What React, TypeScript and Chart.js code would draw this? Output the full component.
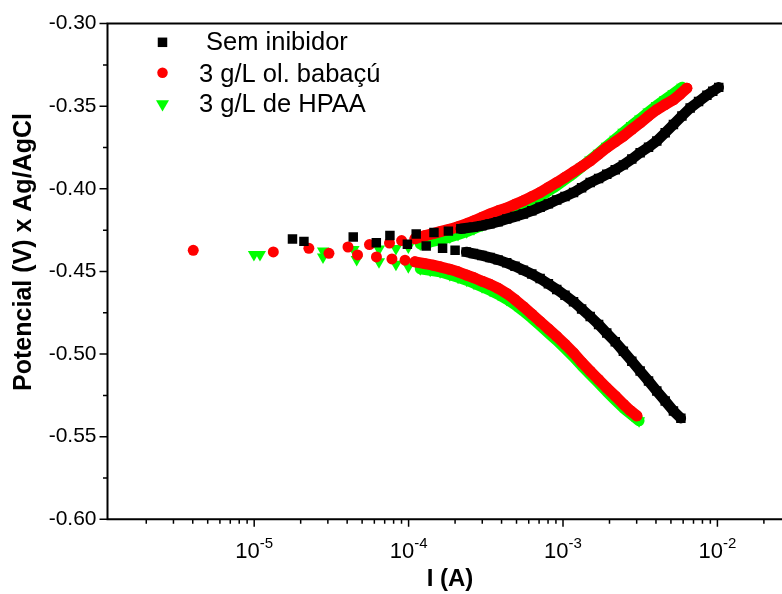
import React, { useEffect, useRef } from "react";
import { Chart, registerables } from "chart.js";

Chart.register(...registerables);

// ---------- DATA (I in A, E in V vs Ag/AgCl) ----------
const seriesLabels = ["Sem inibidor", "3 g/L ol. babaçú", "3 g/L de HPAA"];

// Sem inibidor
const semScatterI = [1.77e-5, 2.10e-5, 4.38e-5, 6.18e-5, 7.57e-5, 9.82e-5, 1.12e-4, 1.30e-4, 1.46e-4, 1.66e-4, 1.81e-4, 2.00e-4];
const semScatterE = [-0.4304, -0.4318, -0.4292, -0.4326, -0.4282, -0.4336, -0.4274, -0.4346, -0.4264, -0.4360, -0.4256, -0.4372];
const semCathI = [2.36e-4, 2.63e-4, 2.98e-4, 3.37e-4, 3.80e-4, 4.32e-4, 4.89e-4, 5.54e-4, 6.28e-4, 7.11e-4, 8.04e-4, 9.11e-4, 1.03e-3, 1.17e-3, 1.32e-3, 1.50e-3, 1.70e-3, 1.92e-3, 2.18e-3, 2.46e-3, 2.79e-3, 3.16e-3, 3.58e-3, 4.05e-3, 4.59e-3, 5.19e-3, 5.80e-3];
const semCathE = [-0.4382, -0.4392, -0.4403, -0.4416, -0.4430, -0.4448, -0.4469, -0.4492, -0.4516, -0.4543, -0.4575, -0.4609, -0.4644, -0.4683, -0.4727, -0.4773, -0.4821, -0.4873, -0.4926, -0.4983, -0.5043, -0.5103, -0.5163, -0.5224, -0.5284, -0.5344, -0.5388];
const semAnodI = [2.18e-4, 2.63e-4, 2.98e-4, 3.37e-4, 3.80e-4, 4.32e-4, 4.89e-4, 5.54e-4, 6.28e-4, 7.11e-4, 8.04e-4, 9.11e-4, 1.03e-3, 1.17e-3, 1.32e-3, 1.50e-3, 1.70e-3, 1.92e-3, 2.18e-3, 2.46e-3, 2.79e-3, 3.16e-3, 3.58e-3, 4.05e-3, 4.59e-3, 5.19e-3, 5.89e-3, 6.66e-3, 7.55e-3, 8.55e-3, 9.33e-3, 1.02e-2];
const semAnodE = [-0.4242, -0.4232, -0.4223, -0.4212, -0.4199, -0.4182, -0.4168, -0.4152, -0.4133, -0.4112, -0.4091, -0.4068, -0.4046, -0.4022, -0.3993, -0.3962, -0.3938, -0.3912, -0.3885, -0.3855, -0.3820, -0.3781, -0.3748, -0.3711, -0.3661, -0.3611, -0.3559, -0.3511, -0.3472, -0.3434, -0.3409, -0.3386];

// 3 g/L ol. babaçú
const babScatterI = [4.03e-6, 1.33e-5, 2.26e-5, 3.05e-5, 4.05e-5, 4.67e-5, 5.58e-5, 6.19e-5, 7.52e-5, 7.80e-5, 9.01e-5, 9.48e-5];
const babScatterE = [-0.4372, -0.4382, -0.4360, -0.4390, -0.4352, -0.4400, -0.4337, -0.4412, -0.4328, -0.4424, -0.4313, -0.4432];
const babCathI = [1.10e-4, 1.28e-4, 1.44e-4, 1.60e-4, 1.85e-4, 2.09e-4, 2.38e-4, 2.65e-4, 2.99e-4, 3.37e-4, 3.80e-4, 4.32e-4, 4.89e-4, 5.54e-4, 6.28e-4, 7.11e-4, 8.04e-4, 9.11e-4, 1.03e-3, 1.17e-3, 1.32e-3, 1.50e-3, 1.70e-3, 1.92e-3, 2.18e-3, 2.46e-3, 2.72e-3, 3.01e-3];
const babCathE = [-0.4442, -0.4453, -0.4462, -0.4472, -0.4487, -0.4502, -0.4522, -0.4538, -0.4559, -0.4578, -0.4602, -0.4633, -0.4671, -0.4713, -0.4758, -0.4803, -0.4848, -0.4893, -0.4941, -0.4993, -0.5049, -0.5103, -0.5154, -0.5204, -0.5254, -0.5303, -0.5341, -0.5374];
const babAnodI = [1.10e-4, 1.28e-4, 1.44e-4, 1.60e-4, 1.85e-4, 2.09e-4, 2.38e-4, 2.65e-4, 2.99e-4, 3.37e-4, 3.80e-4, 4.32e-4, 4.89e-4, 5.54e-4, 6.28e-4, 7.11e-4, 8.04e-4, 9.11e-4, 1.03e-3, 1.17e-3, 1.32e-3, 1.50e-3, 1.70e-3, 1.92e-3, 2.18e-3, 2.46e-3, 2.79e-3, 3.16e-3, 3.58e-3, 4.05e-3, 4.59e-3, 5.19e-3, 5.74e-3, 6.34e-3];
const babAnodE = [-0.4302, -0.4283, -0.4271, -0.4259, -0.4244, -0.4229, -0.4211, -0.4193, -0.4172, -0.4152, -0.4133, -0.4116, -0.4094, -0.4072, -0.4047, -0.4022, -0.3992, -0.3962, -0.3930, -0.3897, -0.3865, -0.3831, -0.3790, -0.3751, -0.3715, -0.3681, -0.3640, -0.3601, -0.3559, -0.3521, -0.3490, -0.3461, -0.3427, -0.3391];

// 3 g/L de HPAA
const hpaScatterI = [9.96e-6, 1.09e-5, 2.79e-5, 2.79e-5, 4.40e-5, 4.61e-5, 6.43e-5, 6.43e-5, 8.28e-5, 8.28e-5, 9.96e-5, 9.96e-5];
const hpaScatterE = [-0.4397, -0.4397, -0.4376, -0.4412, -0.4367, -0.4427, -0.4364, -0.4442, -0.4361, -0.4457, -0.4352, -0.4472];
const hpaCathI = [1.19e-4, 1.38e-4, 1.60e-4, 1.85e-4, 2.09e-4, 2.38e-4, 2.65e-4, 2.99e-4, 3.37e-4, 3.80e-4, 4.32e-4, 4.89e-4, 5.54e-4, 6.28e-4, 7.11e-4, 8.04e-4, 9.11e-4, 1.03e-3, 1.17e-3, 1.32e-3, 1.50e-3, 1.70e-3, 1.92e-3, 2.18e-3, 2.46e-3, 2.79e-3, 3.11e-3];
const hpaCathE = [-0.4484, -0.4493, -0.4502, -0.4520, -0.4535, -0.4553, -0.4571, -0.4593, -0.4614, -0.4638, -0.4668, -0.4701, -0.4740, -0.4782, -0.4827, -0.4872, -0.4917, -0.4965, -0.5016, -0.5070, -0.5124, -0.5175, -0.5227, -0.5278, -0.5326, -0.5368, -0.5404];
const hpaAnodI = [1.19e-4, 1.38e-4, 1.60e-4, 1.85e-4, 2.09e-4, 2.38e-4, 2.65e-4, 2.99e-4, 3.37e-4, 3.80e-4, 4.32e-4, 4.89e-4, 5.54e-4, 6.28e-4, 7.11e-4, 8.04e-4, 9.11e-4, 1.03e-3, 1.17e-3, 1.32e-3, 1.50e-3, 1.70e-3, 1.92e-3, 2.18e-3, 2.46e-3, 2.79e-3, 3.16e-3, 3.58e-3, 4.05e-3, 4.59e-3, 5.19e-3, 5.92e-3];
const hpaAnodE = [-0.4334, -0.4322, -0.4307, -0.4292, -0.4277, -0.4259, -0.4241, -0.4220, -0.4199, -0.4178, -0.4154, -0.4130, -0.4103, -0.4076, -0.4046, -0.4013, -0.3980, -0.3944, -0.3907, -0.3868, -0.3826, -0.3784, -0.3742, -0.3700, -0.3658, -0.3616, -0.3577, -0.3535, -0.3496, -0.3460, -0.3424, -0.3385];

// Axes
const xMin = 1.122e-6;
const xMax = 2.62e-2;
const xMajorTicks = [1e-5, 1e-4, 1e-3, 1e-2];
const xMajorExponents = ["-5", "-4", "-3", "-2"];
const yMin = -0.6;
const yMax = -0.3;
const yStep = 0.05;
const xTitle = "I (A)";
const yTitle = "Potencial (V) x Ag/AgCl";

// ---------- STYLE ----------
const FONT = "'Liberation Sans', Arial, Helvetica, sans-serif";
const colors = ["#000000", "#ff0000", "#00ff00"];

const toPts = (I: number[], E: number[]) => I.map((v, i) => ({ x: v, y: E[i] }));

function drawMarker(ctx: CanvasRenderingContext2D, kind: number, x: number, y: number, s: number) {
  ctx.beginPath();
  if (kind === 0) {
    ctx.rect(x - s / 2, y - s / 2, s, s);
  } else if (kind === 1) {
    ctx.arc(x, y, s / 2, 0, Math.PI * 2);
  } else {
    const r = s / Math.sqrt(3);
    ctx.moveTo(x, y + r);
    ctx.lineTo(x - s / 2, y - r / 2);
    ctx.lineTo(x + s / 2, y - r / 2);
    ctx.closePath();
  }
  ctx.fill();
}

const decorPlugin = {
  id: "decor",
  afterDraw(chart: any) {
    const { ctx, chartArea: ca, scales } = chart;
    const xs = scales.x;
    const ys = scales.y;
    ctx.save();
    ctx.strokeStyle = "#000";
    ctx.fillStyle = "#000";

    // ticks
    ctx.lineWidth = 1.5;
    ctx.beginPath();
    for (let d = -7; d <= -1; d++) {
      for (let k = 1; k <= 9; k++) {
        const v = k * Math.pow(10, d);
        if (v < xMin || v > xMax) continue;
        const px = xs.getPixelForValue(v);
        const len = k === 1 ? 7.5 : 4.5;
        ctx.moveTo(px, ca.bottom);
        ctx.lineTo(px, ca.bottom + len);
      }
    }
    const nSteps = Math.round((yMax - yMin) / yStep);
    for (let i = 0; i <= nSteps; i++) {
      const v = yMin + i * yStep;
      const py = ys.getPixelForValue(v);
      ctx.moveTo(ca.left, py);
      ctx.lineTo(ca.left - 8, py);
      if (i < nSteps) {
        const pm = ys.getPixelForValue(v + yStep / 2);
        ctx.moveTo(ca.left, pm);
        ctx.lineTo(ca.left - 4.5, pm);
      }
    }
    ctx.stroke();

    // axis lines
    ctx.lineWidth = 2;
    ctx.beginPath();
    ctx.moveTo(ca.left, ca.top);
    ctx.lineTo(ca.right, ca.top);
    ctx.moveTo(ca.left, ca.top - 1);
    ctx.lineTo(ca.left, ca.bottom + 1);
    ctx.moveTo(ca.left - 1, ca.bottom);
    ctx.lineTo(ca.right, ca.bottom);
    ctx.stroke();

    // x tick labels 10^n
    ctx.textBaseline = "alphabetic";
    ctx.textAlign = "left";
    xMajorTicks.forEach((v, i) => {
      const px = xs.getPixelForValue(v);
      ctx.font = `22px ${FONT}`;
      const wBase = ctx.measureText("10").width;
      ctx.font = `15px ${FONT}`;
      const wExp = ctx.measureText(xMajorExponents[i]).width;
      const left = px - (wBase + wExp) / 2;
      ctx.font = `22px ${FONT}`;
      ctx.fillText("10", left, ca.bottom + 39);
      ctx.font = `15px ${FONT}`;
      ctx.fillText(xMajorExponents[i], left + wBase, ca.bottom + 29);
    });

    // axis titles
    ctx.font = `bold 24px ${FONT}`;
    ctx.textAlign = "center";
    ctx.fillText(xTitle, 450, 586);
    ctx.save();
    ctx.font = `bold 25px ${FONT}`;
    ctx.translate(31, 252);
    ctx.rotate(-Math.PI / 2);
    ctx.fillText(yTitle, 0, 0);
    ctx.restore();

    // legend
    const lx = 162.5;
    const ly = [42.3, 72.7, 104];
    const sizes = [9.5, 10.5, 13];
    const textY = [50, 81.5, 112];
    const texts = [" " + seriesLabels[0], seriesLabels[1], seriesLabels[2]];
    ctx.font = `25.5px ${FONT}`;
    ctx.textAlign = "left";
    for (let i = 0; i < 3; i++) {
      ctx.fillStyle = colors[i];
      drawMarker(ctx, i, lx, ly[i], sizes[i]);
      ctx.fillStyle = "#000";
      ctx.fillText(texts[i], 199, textY[i]);
    }
    ctx.restore();
  },
};

export default function App() {
  const ref = useRef<HTMLCanvasElement | null>(null);
  useEffect(() => {
    if (!ref.current) return;
    const markerBase = (i: number) => {
      const common: any = {
        backgroundColor: colors[i],
        borderColor: colors[i],
        pointBackgroundColor: colors[i],
        pointBorderColor: colors[i],
        pointBorderWidth: 0,
        showLine: false,
      };
      if (i === 0) return { ...common, pointStyle: "rect", pointRadius: 6.7 };
      if (i === 1) return { ...common, pointStyle: "circle", pointRadius: 5.5 };
      return { ...common, pointStyle: "triangle", pointRotation: 180, pointRadius: 7 };
    };
    const band = (i: number, data: any[], order: number, w: number) => ({
      data,
      showLine: true,
      pointRadius: 0,
      borderColor: colors[i],
      borderWidth: w,
      borderJoinStyle: "round",
      borderCapStyle: "round",
      tension: 0,
      fill: false,
      order,
    });
    const semAll = [...toPts(semScatterI, semScatterE), ...toPts(semCathI, semCathE), ...toPts(semAnodI, semAnodE)];
    const babAll = [...toPts(babScatterI, babScatterE), ...toPts(babCathI, babCathE), ...toPts(babAnodI, babAnodE)];
    const hpaAll = [...toPts(hpaScatterI, hpaScatterE), ...toPts(hpaCathI, hpaCathE), ...toPts(hpaAnodI, hpaAnodE)];

    const chart = new Chart(ref.current, {
      type: "scatter",
      data: {
        datasets: [
          { label: seriesLabels[0], data: semAll, order: 0, ...markerBase(0) },
          band(0, toPts(semCathI, semCathE), 1, 10.5),
          band(0, toPts(semAnodI, semAnodE), 1, 10.5),
          { label: seriesLabels[1], data: babAll, order: 2, ...markerBase(1) },
          band(1, toPts(babCathI, babCathE), 3, 11),
          band(1, toPts(babAnodI, babAnodE), 3, 11),
          { label: seriesLabels[2], data: hpaAll, order: 4, ...markerBase(2) },
          band(2, toPts(hpaCathI, hpaCathE), 5, 11),
          band(2, toPts(hpaAnodI, hpaAnodE), 5, 11),
        ] as any,
      },
      options: {
        animation: false,
        responsive: false,
        events: [],
        layout: { autoPadding: false, padding: { top: 20, right: 0, left: 0, bottom: 0 } },
        plugins: { legend: { display: false }, tooltip: { enabled: false } },
        scales: {
          x: {
            type: "logarithmic",
            min: xMin,
            max: xMax,
            grid: { display: false, drawTicks: false },
            border: { display: false },
            ticks: { display: false },
            afterFit: (s: any) => {
              s.height = 74.7;
            },
          },
          y: {
            type: "linear",
            min: yMin,
            max: yMax,
            grid: { display: false, drawTicks: false },
            border: { display: false },
            ticks: {
              stepSize: yStep,
              padding: 11,
              color: "#000",
              font: { family: FONT, size: 21 },
              callback: (v: any) => Number(v).toFixed(2),
            },
            afterFit: (s: any) => {
              s.width = 107.5;
            },
          },
        },
      } as any,
      plugins: [decorPlugin],
    });
    return () => chart.destroy();
  }, []);

  return (
    <div style={{ position: "fixed", left: 0, top: 0, width: 782, height: 594, background: "#fff" }}>
      <canvas ref={ref} width={782} height={594} style={{ display: "block" }} />
    </div>
  );
}
